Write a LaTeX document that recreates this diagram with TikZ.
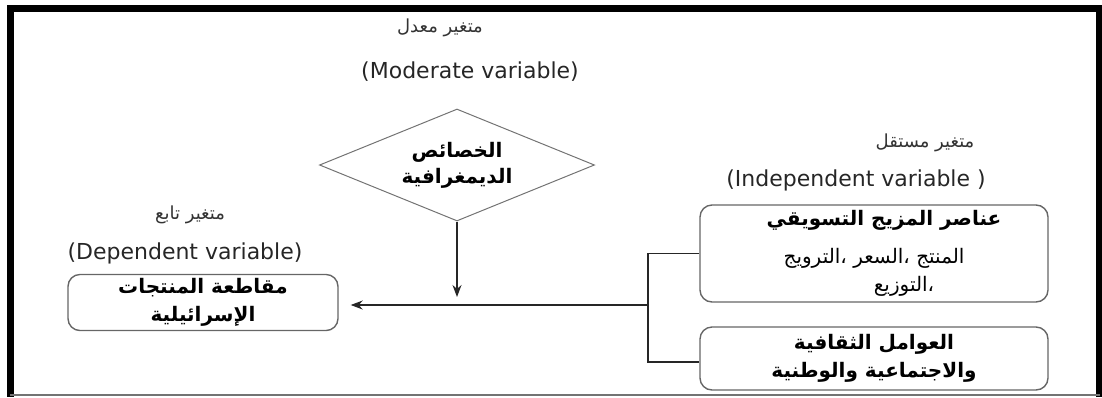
\documentclass[tikz,border=0pt]{standalone}
\usepackage{fontspec}
\setmainfont{DejaVu Sans}
\newfontfamily\arabicfont[Script=Arabic]{DejaVu Sans}
\TeXXeTstate=1
\usetikzlibrary{positioning, shapes.geometric, arrows.meta}

\begin{document}
\begin{tikzpicture}[
            x=0.5pt, y=-0.5pt,
            box/.style={draw=black!60, line width=0.7pt, rounded corners=6pt, align=center, inner sep=2pt,
                font=\arabicfont\bfseries\fontsize{10}{14}\selectfont},
            moderator/.style={draw=black!55, line width=0.5pt, diamond, aspect=2.45, inner sep=0pt,
                minimum width=137.5pt, minimum height=56pt, align=center,
                font=\arabicfont\bfseries\fontsize{10}{13}\selectfont},
            varname/.style={font=\arabicfont\fontsize{9}{11}\selectfont, text=black!80},
            vartype/.style={font=\fontsize{11}{13}\selectfont, text=black!85},
            link/.style={line width=0.6pt, draw=black!85},
            frameline/.style={line width=3.5pt}
        ]
        \useasboundingbox (0,0) rectangle (1102,397);

        % Rahmen
        \draw[frameline] (1099.5,397) -- (1099.5,8) -- (10,8) -- (10,397);
        \draw[black!55, line width=1pt] (10,394.5) -- (1099.5,394.5);

        % Knoten
        \node[moderator] (demo) at (457,165) {\beginR الخصائص\endR\\\beginR الديمغرافية\endR};
        \node[box, minimum width=135pt, minimum height=27.5pt] (boycott) at (203,302.5)
            {\beginR مقاطعة المنتجات\endR\\\beginR الإسرائيلية\endR};
        \node[box, minimum width=174pt, minimum height=48.5pt] (mix) at (874,253.5)
            {\hspace*{10pt}\beginR عناصر المزيج التسويقي\endR\\[5pt]
             {\mdseries\beginR المنتج ،السعر ،الترويج\endR}\\
             \hspace*{30pt}{\mdseries\beginR ،التوزيع\endR}};
        \node[box, minimum width=174pt, minimum height=31.5pt] (culture) at (874,358.5)
            {\beginR العوامل الثقافية\endR\\\beginR والاجتماعية والوطنية\endR};

        % Beschriftungen
        \node[varname] (modname) at (440,28) {\beginR متغير معدل\endR};
        \node[vartype] (modtype) at (470,72) {(Moderate variable)};
        \node[varname] (depname) at (190,215) {\beginR متغير تابع\endR};
        \node[vartype] (deptype) at (185,253) {(Dependent variable)};
        \node[varname] (indname) at (925,143) {\beginR متغير مستقل\endR};
        \node[vartype] (indtype) at (856,180) {(Independent variable )};

        % Kanten
        \coordinate (jtop) at (648,253.5);
        \coordinate (jmid) at (648,305);
        \coordinate (jbot) at (648,362);
        \coordinate (modtip) at (457,297);
        \draw[link] (mix.west) -- (jtop) -- (jbot) -- (culture.west |- jbot);
        \draw[link, -{Stealth[length=6pt, width=4.5pt]}] (jmid) -- (boycott.east |- jmid) [shorten >=6pt];
        \draw[link, -{Stealth[length=6pt, width=4.5pt]}] (demo.south) -- (modtip);

    \end{tikzpicture}
\end{document}
